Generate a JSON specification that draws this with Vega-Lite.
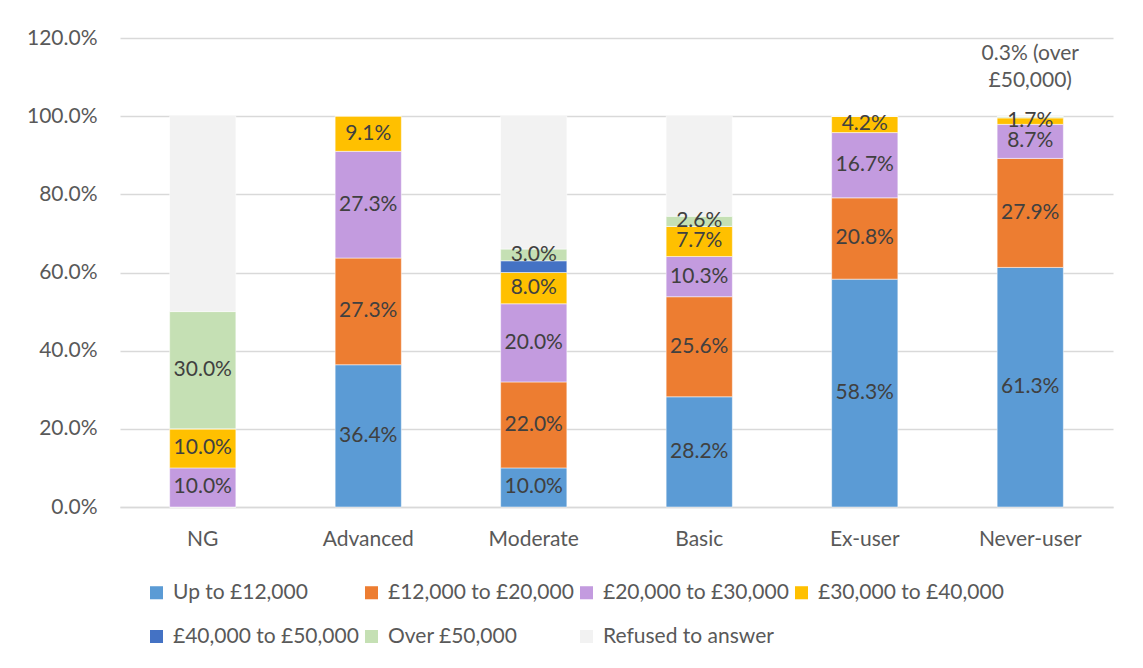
{
  "$schema": "https://vega.github.io/schema/vega-lite/v6.json",
  "width": 993,
  "height": 469,
  "autosize": {"type": "none"},
  "padding": {"left": 120, "top": 38, "right": 30, "bottom": 161},
  "background": "white",
  "config": {"font": "Lato", "view": {"stroke": null}},
  "data": {
    "values": [
      {"group": "NG", "band": "Up to £12,000", "o": 1, "pct": 0},
      {"group": "NG", "band": "£12,000 to £20,000", "o": 2, "pct": 0},
      {"group": "NG", "band": "£20,000 to £30,000", "o": 3, "pct": 10.0},
      {"group": "NG", "band": "£30,000 to £40,000", "o": 4, "pct": 10.0},
      {"group": "NG", "band": "£40,000 to £50,000", "o": 5, "pct": 0},
      {"group": "NG", "band": "Over £50,000", "o": 6, "pct": 30.0},
      {"group": "NG", "band": "Refused to answer", "o": 7, "pct": 50.0},
      {"group": "Advanced", "band": "Up to £12,000", "o": 1, "pct": 36.4},
      {"group": "Advanced", "band": "£12,000 to £20,000", "o": 2, "pct": 27.3},
      {"group": "Advanced", "band": "£20,000 to £30,000", "o": 3, "pct": 27.3},
      {"group": "Advanced", "band": "£30,000 to £40,000", "o": 4, "pct": 9.1},
      {"group": "Advanced", "band": "£40,000 to £50,000", "o": 5, "pct": 0},
      {"group": "Advanced", "band": "Over £50,000", "o": 6, "pct": 0},
      {"group": "Advanced", "band": "Refused to answer", "o": 7, "pct": 0},
      {"group": "Moderate", "band": "Up to £12,000", "o": 1, "pct": 10.0},
      {"group": "Moderate", "band": "£12,000 to £20,000", "o": 2, "pct": 22.0},
      {"group": "Moderate", "band": "£20,000 to £30,000", "o": 3, "pct": 20.0},
      {"group": "Moderate", "band": "£30,000 to £40,000", "o": 4, "pct": 8.0},
      {"group": "Moderate", "band": "£40,000 to £50,000", "o": 5, "pct": 3.0},
      {"group": "Moderate", "band": "Over £50,000", "o": 6, "pct": 3.0},
      {"group": "Moderate", "band": "Refused to answer", "o": 7, "pct": 34.0},
      {"group": "Basic", "band": "Up to £12,000", "o": 1, "pct": 28.2},
      {"group": "Basic", "band": "£12,000 to £20,000", "o": 2, "pct": 25.6},
      {"group": "Basic", "band": "£20,000 to £30,000", "o": 3, "pct": 10.3},
      {"group": "Basic", "band": "£30,000 to £40,000", "o": 4, "pct": 7.7},
      {"group": "Basic", "band": "£40,000 to £50,000", "o": 5, "pct": 0},
      {"group": "Basic", "band": "Over £50,000", "o": 6, "pct": 2.6},
      {"group": "Basic", "band": "Refused to answer", "o": 7, "pct": 25.6},
      {"group": "Ex-user", "band": "Up to £12,000", "o": 1, "pct": 58.3},
      {"group": "Ex-user", "band": "£12,000 to £20,000", "o": 2, "pct": 20.8},
      {"group": "Ex-user", "band": "£20,000 to £30,000", "o": 3, "pct": 16.7},
      {"group": "Ex-user", "band": "£30,000 to £40,000", "o": 4, "pct": 4.2},
      {"group": "Ex-user", "band": "£40,000 to £50,000", "o": 5, "pct": 0},
      {"group": "Ex-user", "band": "Over £50,000", "o": 6, "pct": 0},
      {"group": "Ex-user", "band": "Refused to answer", "o": 7, "pct": 0},
      {"group": "Never-user", "band": "Up to £12,000", "o": 1, "pct": 61.3},
      {"group": "Never-user", "band": "£12,000 to £20,000", "o": 2, "pct": 27.9},
      {"group": "Never-user", "band": "£20,000 to £30,000", "o": 3, "pct": 8.7},
      {"group": "Never-user", "band": "£30,000 to £40,000", "o": 4, "pct": 1.7},
      {"group": "Never-user", "band": "£40,000 to £50,000", "o": 5, "pct": 0},
      {"group": "Never-user", "band": "Over £50,000", "o": 6, "pct": 0.3},
      {"group": "Never-user", "band": "Refused to answer", "o": 7, "pct": 0}
    ]
  },
  "encoding": {
    "x": {
      "field": "group",
      "type": "nominal",
      "sort": ["NG", "Advanced", "Moderate", "Basic", "Ex-user", "Never-user"],
      "scale": {"paddingInner": 0.6, "paddingOuter": 0.3},
      "axis": {
        "title": null,
        "labelAngle": 0,
        "labelFontSize": 21,
        "labelColor": "#595959",
        "labelPadding": 21,
        "ticks": false,
        "domainColor": "#D9D9D9",
        "domainWidth": 1.5
      }
    }
  },
  "layer": [
    {
      "mark": {"type": "bar", "stroke": "white", "strokeWidth": 0.5},
      "encoding": {
        "y": {
          "field": "pct",
          "type": "quantitative",
          "stack": "zero",
          "scale": {"domain": [0, 120]},
          "axis": {
            "title": null,
            "values": [0, 20, 40, 60, 80, 100, 120],
            "labelExpr": "format(datum.value, '.1f') + '%'",
            "labelFontSize": 21,
            "labelColor": "#595959",
            "labelPadding": 23,
            "ticks": false,
            "domain": false,
            "gridColor": "#D9D9D9",
            "gridWidth": 1.5
          }
        },
        "color": {
          "field": "band",
          "type": "nominal",
          "scale": {
            "domain": ["Up to £12,000", "£12,000 to £20,000", "£20,000 to £30,000", "£30,000 to £40,000", "£40,000 to £50,000", "Over £50,000", "Refused to answer"],
            "range": ["#5B9BD5", "#ED7D31", "#C39BDF", "#FFC000", "#4472C4", "#C5E0B4", "#F2F2F2"]
          },
          "legend": {
            "title": null,
            "orient": "none",
            "legendX": 26,
            "legendY": 544,
            "direction": "horizontal",
            "columns": 4,
            "gridAlign": "each",
            "columnPadding": 2,
            "rowPadding": 22,
            "symbolType": "square",
            "symbolSize": 170,
            "symbolStrokeWidth": 0,
            "labelFontSize": 21,
            "labelColor": "#595959",
            "labelOffset": 6,
            "labelLimit": 400
          }
        },
        "order": {"field": "o", "type": "quantitative"}
      }
    },
    {
      "transform": [
        {"stack": "pct", "groupby": ["group"], "sort": [{"field": "o"}], "as": ["y0", "y1"]},
        {"calculate": "(datum.y0 + datum.y1) / 2", "as": "mid"},
        {"calculate": "format(datum.pct, '.1f') + '%'", "as": "label"},
        {"filter": "datum.band != 'Refused to answer' && datum.pct >= 1 && !(datum.group == 'Moderate' && datum.band == '£40,000 to £50,000')"}
      ],
      "mark": {"type": "text", "fontSize": 21, "color": "#404040", "baseline": "middle"},
      "encoding": {
        "y": {"field": "mid", "type": "quantitative"},
        "text": {"field": "label"}
      }
    },
    {
      "data": {"values": [{"group": "Never-user", "note": "0.3% (over|£50,000)"}]},
      "mark": {"type": "text", "fontSize": 21, "color": "#595959", "lineBreak": "|", "lineHeight": 27, "baseline": "middle"},
      "encoding": {
        "y": {"datum": 115.8, "type": "quantitative"},
        "text": {"field": "note"}
      }
    }
  ]
}
